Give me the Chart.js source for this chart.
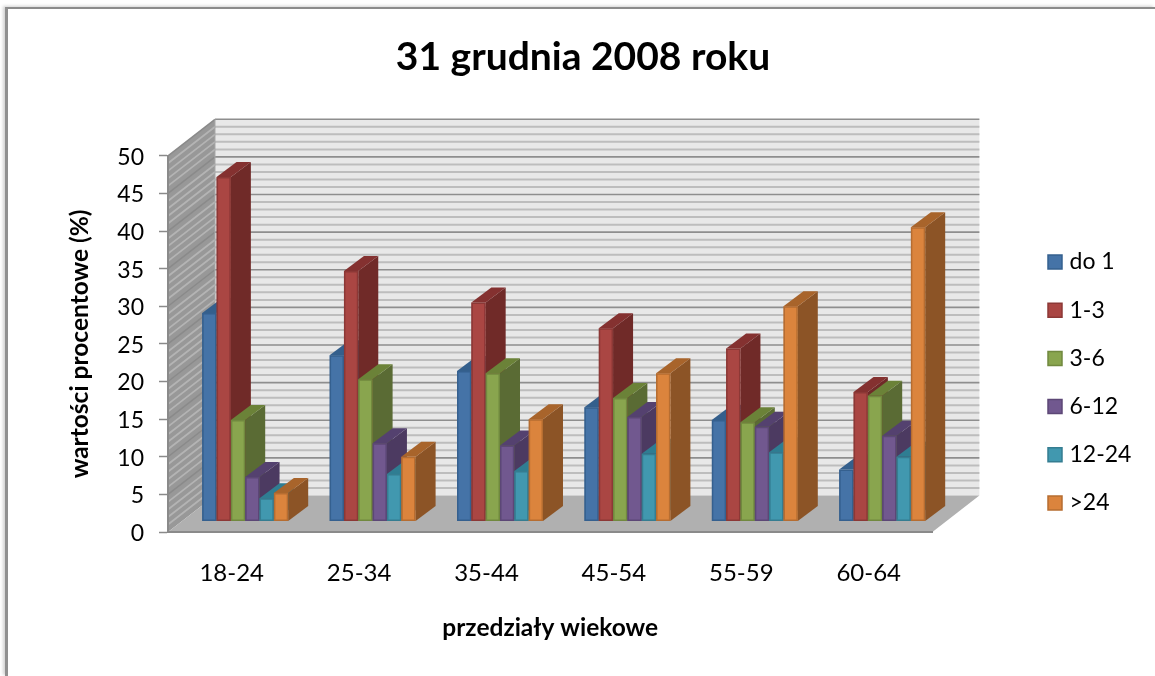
<!DOCTYPE html>
<html lang="pl">
<head>
<meta charset="utf-8">
<title>31 grudnia 2008 roku</title>
<script src="https://cdn.jsdelivr.net/npm/chart.js@4/dist/chart.umd.js"></script>
<style>
html,body{margin:0;padding:0;background:#fff;overflow:hidden}
#frame{position:absolute;left:5px;top:7px;width:1150px;height:669px;box-sizing:border-box;border-top:2px solid #8c8c8c;border-left:3px solid #909090;box-shadow:-2px -1px 3px rgba(0,0,0,.18)}
canvas{position:absolute;left:0;top:0;filter:blur(.45px)}
</style>
</head>
<body>
<div id="frame"></div>
<canvas id="c" width="1155" height="676"></canvas>
<script>
const categories = ["18-24","25-34","35-44","45-54","55-59","60-64"];
const seriesNames = ["do 1","1-3","3-6","6-12","12-24",">24"];
const do1    = [27.7,22.1,20.0,15.2,13.5,6.9];
const m1to3  = [45.8,33.3,29.1,25.7,23.0,17.2];
const m3to6  = [13.5,18.9,19.7,16.4,13.2,16.7];
const m6to12 = [5.9,10.4,10.1,13.9,12.6,11.4];
const m12to24= [3.1,6.3,6.7,9.0,9.2,8.6];
const over24 = [3.8,8.6,13.6,19.7,28.6,39.1];
const seriesValues = [do1,m1to3,m3to6,m6to12,m12to24,over24];

const frontColors  = ["#4573A7","#AA4643","#89A54E","#71588F","#4198AF","#DB843D"];
const borderColors = ["#35608F","#8C3836","#71893F","#5C4776","#357D91","#B66D31"];
const sideColors   = ["#2F5A87","#702A28","#5A6B34","#4C3A61","#2B7387","#8C5426"];
const topColors    = ["#345F8C","#843130","#6B8238","#54416F","#2F7D92","#A8642B"];

const FONT = "Lato, Carlito, Calibri, sans-serif";
const WALL = {dx:47, dy:36.5};
const BAR_SHIFT = {dx:13.5, dy:-10.5};
const BAR_DEPTH = {dx:20, dy:15};

function poly(ctx, pts, fill){
  ctx.beginPath();
  pts.forEach((p,i)=> i?ctx.lineTo(p[0],p[1]):ctx.moveTo(p[0],p[1]));
  ctx.closePath();
  ctx.fillStyle = fill; ctx.fill();
}

const scene3d = {
  id:"scene3d",
  afterUpdate(chart){
    const lg = chart.legend, t = chart.titleBlock;
    lg.left = 1052 - lg.options.labels.padding;
    lg.right = chart.width;
    lg.top = 250.5 - lg.options.labels.padding;
    lg.bottom = chart.height;
    t.left = 11; t.right = 1155;
  },
  beforeDraw(chart){
    const {ctx, scales:{x,y}} = chart;
    const L=x.left, R=x.right, B=y.getPixelForValue(0), T=y.getPixelForValue(50);
    const d=WALL;
    ctx.save();
    ctx.fillStyle="#E8E8E8";
    ctx.fillRect(L+d.dx,T-d.dy,R-L,B-T);
    poly(ctx,[[L,B],[L+d.dx,B-d.dy],[L+d.dx,T-d.dy],[L,T]],"#989898");
    poly(ctx,[[L,B],[L+d.dx,B-d.dy],[R+d.dx,B-d.dy],[R,B]],"#B0B0B0");
    for(let v=1;v<=50;v++){
      const py=y.getPixelForValue(v), major=v%5===0;
      ctx.beginPath();ctx.moveTo(L+d.dx,py-d.dy);ctx.lineTo(R+d.dx,py-d.dy);
      ctx.strokeStyle=major?"#8E8E8E":"#BDBDBD";
      ctx.lineWidth=major?1.6:2;ctx.stroke();
      ctx.beginPath();ctx.moveTo(L,py);ctx.lineTo(L+d.dx,py-d.dy);
      ctx.strokeStyle=major?"#8A8A8A":"#B4B4B4";
      ctx.lineWidth=major?1.5:1.8;ctx.stroke();
    }
    ctx.beginPath();ctx.moveTo(L+d.dx,T-d.dy);ctx.lineTo(L+d.dx,B-d.dy);
    ctx.strokeStyle="#A8A8A8";ctx.lineWidth=1;ctx.stroke();
    ctx.restore();
  },
  // The library would paint dataset 0 last; skip that pass and paint left to right instead,
  // so each bar's front covers the side of its left neighbour.
  beforeDatasetDraw(){ return false; },
  afterDatasetsDraw(chart){
    const ctx=chart.ctx, d=BAR_DEPTH;
    ctx.save();
    ctx.translate(BAR_SHIFT.dx,BAR_SHIFT.dy);
    seriesNames.forEach((_,i)=>{
      const meta=chart.getDatasetMeta(i);
      meta.data.forEach(el=>{
        const {x,y,base,width}=el.getProps(["x","y","base","width"],true);
        const l=x-width/2, r=x+width/2;
        poly(ctx,[[r,y],[r+d.dx,y-d.dy],[r+d.dx,base-d.dy],[r,base]],sideColors[i]);
        poly(ctx,[[l,y],[l+d.dx,y-d.dy],[r+d.dx,y-d.dy],[r,y]],topColors[i]);
        // solid underlay: stops the background showing through the seam between border and fill
        poly(ctx,[[l,y],[r,y],[r,base],[l,base]],borderColors[i]);
      });
      meta.controller.draw();
    });
    ctx.restore();
  }
};

new Chart(document.getElementById("c"),{
  type:"bar",
  data:{
    labels:categories,
    datasets:seriesNames.map((name,i)=>({
      label:name,
      data:seriesValues[i],
      backgroundColor:frontColors[i],
      borderColor:borderColors[i],
      borderWidth:1.5,
      borderSkipped:false,
      clip:false
    }))
  },
  options:{
    responsive:false,
    animation:false,
    events:[],
    layout:{padding:{left:0,right:108,top:0,bottom:0}},
    datasets:{bar:{categoryPercentage:0.675,barPercentage:1}},
    plugins:{
      title:{display:true,text:"31 grudnia 2008 roku",color:"#000",
        font:{family:FONT,size:39,weight:"bold",lineHeight:1.2},
        padding:{top:34,bottom:75}},
      legend:{display:true,position:"right",align:"start",
        labels:{boxWidth:6,boxHeight:14,padding:25.2,color:"#000",usePointStyle:true,
          font:{family:FONT,size:23},
          generateLabels(){
            return seriesNames.map((n,i)=>({text:n,fillStyle:frontColors[i],strokeStyle:borderColors[i],lineWidth:1.5,pointStyle:"rect",fontColor:"#000",datasetIndex:i,hidden:false}));
          }}},
      tooltip:{enabled:false}
    },
    scales:{
      x:{
        grid:{display:false,drawTicks:false},
        border:{display:true,color:"#8A8A8A",width:2},
        ticks:{color:"#000",padding:27,font:{family:FONT,size:24},maxRotation:0},
        title:{display:true,text:"przedziały wiekowe",color:"#000",
          font:{family:FONT,size:24.5,weight:"bold",lineHeight:1.2},padding:{top:0,bottom:33}},
        afterFit(s){s.height=144;}
      },
      y:{
        min:0,max:50,
        grid:{drawOnChartArea:false,drawTicks:true,tickLength:9,tickColor:"#8A8A8A",tickWidth:1.5},
        border:{display:true,color:"#8A8A8A",width:2},
        ticks:{stepSize:5,color:"#000",padding:15,labelOffset:1.5,font:{family:FONT,size:23}},
        title:{display:true,text:"wartości procentowe (%)",color:"#000",
          font:{family:FONT,size:24.5,weight:"bold",lineHeight:1.2},padding:{top:65,bottom:0}},
        afterFit(s){s.width=168;}
      }
    }
  },
  plugins:[scene3d]
});
</script>
</body>
</html>
